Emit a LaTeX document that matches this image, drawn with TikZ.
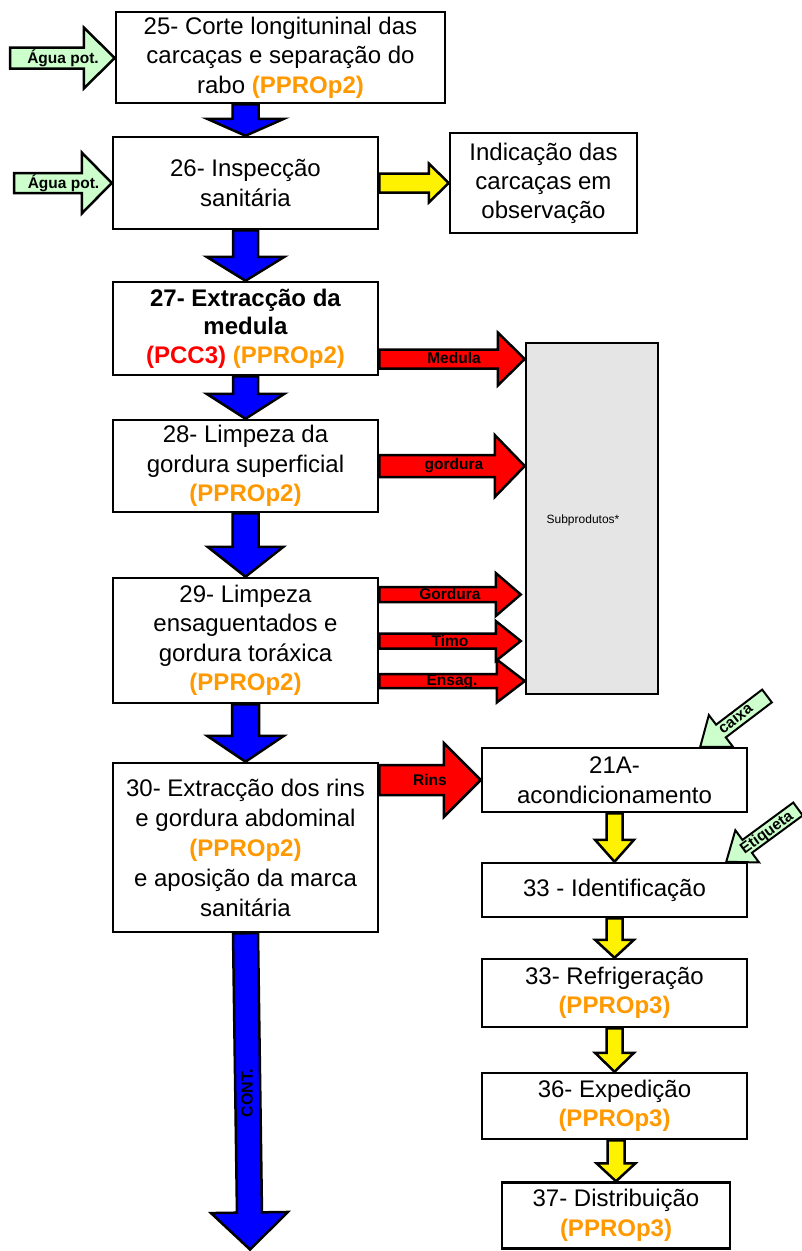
\documentclass[tikz,border=0pt]{standalone}
\usepackage{fontspec}
\setmainfont{Liberation Sans}
\usetikzlibrary{calc}
\definecolor{ppro}{RGB}{255,153,0}
\definecolor{aguaverde}{RGB}{204,255,204}
\definecolor{subgray}{RGB}{229,229,229}

% block arrow: [style]{start}{tip}{half shaft width}{half head width}{head length}
\newcommand\blockarrow[6][]{%
  \path (#2) coordinate (ba-s) (#3) coordinate (ba-t);
  \path ($(ba-t)!#6!(ba-s)$) coordinate (ba-h);
  \draw[#1] ($(ba-s)!#4!90:(ba-t)$) -- ($(ba-h)!#4!-90:(ba-s)$)
    -- ($(ba-h)!#5!-90:(ba-s)$) -- (ba-t) -- ($(ba-h)!#5!90:(ba-s)$)
    -- ($(ba-h)!#4!90:(ba-s)$) -- ($(ba-s)!#4!-90:(ba-t)$) -- cycle;
}

\tikzset{
  box/.style={draw, line width=2.5pt, fill=white, align=center, inner sep=0pt,
    font=\fontsize{24}{29.5}\selectfont},
  flow/.style={draw, line width=2.5pt, fill=blue},
  side/.style={draw, line width=2.5pt, fill=yellow},
  waste/.style={draw, line width=2.5pt, fill=red},
  supply/.style={draw, line width=2.5pt, fill=aguaverde},
  thinsupply/.style={draw, line width=2pt, fill=aguaverde},
  lab/.style={inner sep=0pt, font=\fontsize{15.5}{18}\selectfont\bfseries}
}
\newcommand\pcc[1]{{\bfseries\color{ppro}#1}}

\begin{document}
\begin{tikzpicture}[x=1pt,y=-1pt]
\useasboundingbox (0,0) rectangle (801,1251);

% process steps, left column
\node[box, minimum width=329pt, minimum height=91pt] (b25) at (280.5,57.5)
  {25- Corte longituninal das\\carcaças e separação do\\rabo \pcc{(PPROp2)}};
\node[box, minimum width=265pt, minimum height=92pt] (b26) at (245.5,183)
  {26- Inspecção\\sanitária};
\node[box, minimum width=187pt, minimum height=100pt, font=\fontsize{24}{29}\selectfont] (ind) at (543.5,183)
  {Indicação das\\carcaças em\\observação};
\node[box, minimum width=265pt, minimum height=93pt, font=\fontsize{24}{28.5}\selectfont\bfseries] (b27) at (245.5,328.5)
  {27- Extracção da\\medula\\{\color{red}(PCC3)} {\color{ppro}(PPROp2)}};
\node[box, minimum width=265pt, minimum height=92pt] (b28) at (245.5,466)
  {28- Limpeza da\\gordura superficial\\\pcc{(PPROp2)}};
\node[box, minimum width=265pt, minimum height=125pt] (b29) at (245.5,640.5)
  {29- Limpeza\\ensaguentados e\\gordura toráxica\\\pcc{(PPROp2)}};
\node[box, minimum width=265pt, minimum height=169pt, font=\fontsize{24}{30}\selectfont] (b30) at (245.5,847.5)
  {30- Extracção dos rins\\e gordura abdominal\\\pcc{(PPROp2)}\\e aposição da marca\\sanitária};

% by-products
\node[draw, line width=2.5pt, fill=subgray, minimum width=132pt, minimum height=351pt] (sub) at (592,518.5) {};
\node[inner sep=0pt, font=\fontsize{12}{14}\selectfont] (subt) at (583,520) {Subprodutos*};

% right column
\node[box, minimum width=265pt, minimum height=64pt, font=\fontsize{24}{30}\selectfont] (b21) at (614.5,780)
  {21A-\\acondicionamento};
\node[box, minimum width=265pt, minimum height=54pt] (b33) at (614.5,890)
  {33 - Identificação};
\node[box, minimum width=265pt, minimum height=68pt] (bref) at (614.5,993)
  {33- Refrigeração\\\pcc{(PPROp3)}};
\node[box, minimum width=265pt, minimum height=66pt] (bexp) at (614.5,1106)
  {36- Expedição\\\pcc{(PPROp3)}};
\node[box, minimum width=228pt, minimum height=66pt] (bdist) at (616,1215.5)
  {37- Distribuição\\\pcc{(PPROp3)}};

% main flow
\blockarrow[flow]{b25.south -| b26.north}{b26.north}{13pt}{38.5pt}{17pt}
\blockarrow[flow]{b26.south}{b27.north}{12.5pt}{39pt}{24pt}
\blockarrow[flow]{b27.south}{b28.north}{12.5pt}{39pt}{25pt}
\blockarrow[flow]{b28.south}{b29.north}{13pt}{38pt}{30pt}
\blockarrow[flow]{b29.south}{b30.north}{13.5pt}{38.5pt}{26pt}
\coordinate (contend) at (250,1249.5);
\blockarrow[flow]{b30.south}{contend}{12.5pt}{38.5pt}{37pt}
\node[lab, rotate=90, font=\fontsize{16}{18}\selectfont\bfseries] (cont) at (247,1093) {CONT.};

% inspection outcome
\blockarrow[side]{b26.east}{ind.west}{9.5pt}{19.5pt}{20pt}

% right column flow
\blockarrow[side]{b21.south}{b33.north}{8pt}{19.5pt}{22pt}
\blockarrow[side]{b33.south}{bref.north}{8pt}{19.5pt}{18pt}
\blockarrow[side]{bref.south}{bexp.north}{8pt}{19.5pt}{19pt}
\blockarrow[side]{bexp.south -| bdist.north}{bdist.north}{8.5pt}{19.5pt}{18pt}

% by-product outputs
\coordinate (medS) at (b27.east |- 0,359);
\blockarrow[waste]{medS}{medS -| sub.west}{9.5pt}{26.5pt}{27pt}
\node[lab] (lmed) at (454,358) {Medula};
\blockarrow[waste]{b28.east}{b28.east -| sub.west}{11pt}{31pt}{30pt}
\node[lab] (lgor) at (454,466) {gordura};

\coordinate (g29S) at (b29.east |- 0,594.5);
\coordinate (g29T) at ($(g29S -| sub.west)+(-4,0)$);
\blockarrow[waste]{g29S}{g29T}{7.5pt}{21.5pt}{25pt}
\node[lab] (lgor2) at (450,594) {Gordura};
\coordinate (timS) at (b29.east |- 0,641);
\coordinate (timT) at ($(timS -| sub.west)+(-4,0)$);
\blockarrow[waste]{timS}{timT}{7.5pt}{20pt}{25pt}
\node[lab] (ltim) at (450,641) {Timo};
\coordinate (ensS) at (b29.east |- 0,681);
\blockarrow[waste]{ensS}{ensS -| sub.west}{7pt}{21.5pt}{28pt}
\node[lab] (lens) at (452,682) {Ensag.};

\coordinate (rinS) at (b30.east |- b21.west);
\blockarrow[waste]{rinS}{b21.west}{15pt}{37pt}{37pt}
\node[lab] (lrin) at (430,780) {Rins};

% supplies
\coordinate (ag1) at (10,58);
\blockarrow[supply]{ag1}{ag1 -| b25.west}{10.5pt}{30.5pt}{31pt}
\node[lab] (lag1) at (63,58) {Água pot.};
\coordinate (ag2) at (14,183);
\blockarrow[supply]{ag2}{b26.west}{10pt}{30.5pt}{30pt}
\node[lab] (lag2) at (63.5,183) {Água pot.};

\coordinate (cxS) at (767,696);
\coordinate (cxT) at ($(b21.north east)+(-48,0)$);
\blockarrow[thinsupply]{cxS}{cxT}{8pt}{20pt}{26pt}
\node[lab, rotate=38] (lcx) at (735,718) {caixa};
\coordinate (etS) at (798,809);
\coordinate (etT) at ($(b33.north east)+(-22,0)$);
\blockarrow[thinsupply]{etS}{etT}{8pt}{20pt}{26pt}
\node[lab, rotate=36] (let) at (767,833) {Etiqueta};
\end{tikzpicture}
\end{document}
